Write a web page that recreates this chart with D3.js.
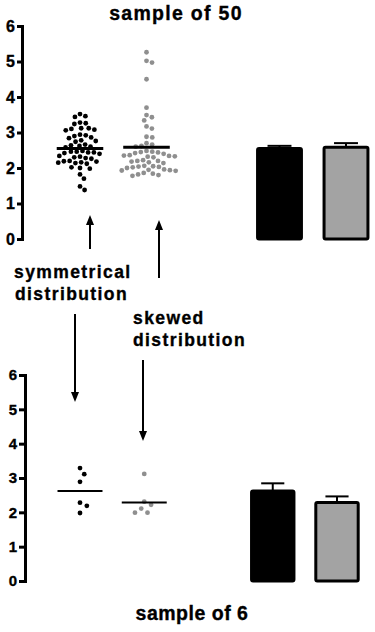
<!DOCTYPE html>
<html lang="en">
  <head>
    <meta charset="utf-8">
    <title>Sample of 50 vs sample of 6</title>
    <script src="https://d3js.org/d3.v7.min.js"></script>
    <style>
      body {
        margin: 0;
        background: #fff;
      }
      svg text {
        font-family: "Liberation Sans", Arial, sans-serif;
        font-weight: bold;
        fill: #000;
        stroke: #000;
        stroke-width: 0.35px;
      }
    </style>
  </head>
  <body>
    <script>
      // values
      const yTicks = [0, 1, 2, 3, 4, 5, 6];
      const columns = ['symDots', 'skewDots', 'gap', 'symBar', 'skewBar'];

      const symmetrical50 = [3.52, 3.46, 3.44, 3.28, 3.26, 3.24, 3.12, 3.10, 3.08, 3.06,
                             3.12, 2.94, 2.90, 2.86, 2.78, 2.74, 2.76, 2.84, 2.92, 2.66,
                             2.62, 2.60, 2.58, 2.64, 2.48, 2.46, 2.44, 2.42, 2.40, 2.44,
                             2.46, 2.32, 2.30, 2.28, 2.26, 2.34, 2.18, 2.16, 2.14, 2.12,
                             2.15, 2.19, 2.20, 2.02, 1.98, 2.00, 1.82, 1.70, 1.48, 1.38];
      const skewed50 = [5.26, 5.02, 4.97, 4.50, 3.70, 3.49, 3.43, 3.34, 3.17, 3.11,
                        2.88, 2.86, 2.70, 2.66, 2.62, 2.60, 2.48, 2.46, 2.45, 2.44,
                        2.42, 2.40, 2.36, 2.34, 2.33, 2.32, 2.30, 2.35, 2.22, 2.20,
                        2.18, 2.16, 2.14, 2.20, 2.06, 2.04, 2.02, 2.00, 2.03, 2.05,
                        1.96, 1.94, 1.92, 1.93, 1.95, 1.86, 1.84, 1.82, 1.80, 1.78];
      const symmetrical6 = [3.29, 3.11, 2.89, 2.28, 2.19, 1.98];
      const skewed6 = [3.12, 2.31, 2.22, 2.11, 1.99, 1.99];

      const w = 375;
      const h = 632;

      const svg = d3.select('body')
                    .append('svg')
                    .attr('width', w)
                    .attr('height', h);

      const sem = v => d3.deviation(v) / Math.sqrt(v.length);

      // simple beeswarm: nearest free slot to the centre line
      function swarm(values, yScale, d) {
        const placed = [];
        values.slice().sort((a, b) => b - a).forEach(v => {
          const y = yScale(v);
          const cands = [0];
          placed.forEach(p => {
            const dy = y - p.y;
            if (Math.abs(dy) < d) {
              const dx = Math.sqrt(d * d - dy * dy);
              cands.push(p.dx + dx, p.dx - dx);
            }
          });
          cands.sort((a, b) => Math.abs(a) - Math.abs(b));
          const ok = cands.find(c => placed.every(p => Math.hypot(p.dx - c, p.y - y) >= d - 0.01));
          placed.push({v: v, y: y, dx: ok});
        });
        return placed;
      }

      function drawPanel(p) {
        const yScale = d3.scaleLinear().domain([0, 6]).range([p.bottom, p.top]);
        const xScale = d3.scalePoint().domain(columns).range([p.left, p.right]);
        const step = xScale.step();
        const g = svg.append('g');

        const yAxis = d3.axisLeft(yScale)
                        .tickValues(yTicks)
                        .tickFormat(d3.format('d'))
                        .tickSize(p.tickLen)
                        .tickSizeOuter(0)
                        .tickPadding(2);

        const ax = g.append('g')
                    .attr('transform', `translate(${p.axisX}, 0)`)
                    .call(yAxis);
        ax.attr('font-size', p.labelSize);
        ax.select('.domain')
          .attr('stroke', '#000')
          .attr('stroke-width', 3)
          .attr('stroke-linecap', 'square');
        ax.selectAll('.tick line')
          .attr('stroke', '#000')
          .attr('stroke-width', 3);
        ax.selectAll('.tick text')
          .style('font-size', p.labelSize + 'px')
          .attr('fill', '#000');

        const groups = [
          {values: p.sym, dots: 'symDots', bar: 'symBar', dot: '#000', fill: '#000'},
          {values: p.skew, dots: 'skewDots', bar: 'skewBar', dot: '#8f8f8f', fill: '#a3a3a3'}
        ];

        groups.forEach(gr => {
          const cx = xScale(gr.dots);
          const m = d3.mean(gr.values);
          const e = sem(gr.values);

          g.selectAll(null)
           .data(swarm(gr.values, yScale, p.spacing))
           .enter()
           .append('circle')
            .attr('cx', d => cx + d.dx)
            .attr('cy', d => d.y)
            .attr('r', p.r)
            .attr('fill', gr.dot);

          g.append('line')
           .attr('x1', cx - 0.35 * step)
           .attr('x2', cx + 0.35 * step)
           .attr('y1', yScale(m))
           .attr('y2', yScale(m))
           .attr('stroke', '#000')
           .attr('stroke-width', p.meanWidth);

          const bx = xScale(gr.bar);
          g.append('line')
           .attr('x1', bx).attr('x2', bx)
           .attr('y1', yScale(m)).attr('y2', yScale(m + e))
           .attr('stroke', '#000')
           .attr('stroke-width', 2);
          g.append('line')
           .attr('x1', bx - 0.18 * step).attr('x2', bx + 0.18 * step)
           .attr('y1', yScale(m + e)).attr('y2', yScale(m + e))
           .attr('stroke', '#000')
           .attr('stroke-width', 2);

          g.append('rect')
           .attr('x', bx - 0.33 * step)
           .attr('width', 0.66 * step)
           .attr('y', yScale(m))
           .attr('height', yScale(0) - yScale(m))
           .attr('rx', 1.5)
           .attr('fill', gr.fill)
           .attr('stroke', '#000')
           .attr('stroke-width', 3);
        });
      }

      drawPanel({top: 26, bottom: 239, left: 80, right: 346, axisX: 22, tickLen: 5,
                 labelSize: 16, r: 2.4, spacing: 5.8, meanWidth: 3,
                 sym: symmetrical50, skew: skewed50});
      drawPanel({top: 375, bottom: 581, left: 80, right: 337, axisX: 25, tickLen: 6,
                 labelSize: 15, r: 2.4, spacing: 7.5, meanWidth: 2,
                 sym: symmetrical6, skew: skewed6});

      // titles
      svg.append('text')
         .attr('x', 176).attr('y', 20)
         .attr('text-anchor', 'middle')
         .attr('font-size', 19.5)
         .attr('letter-spacing', 1.3)
         .text('sample of 50');
      svg.append('text')
         .attr('x', 192).attr('y', 620)
         .attr('text-anchor', 'middle')
         .attr('font-size', 19.5)
         .attr('letter-spacing', 0.5)
         .text('sample of 6');

      // annotations
      const notes = [
        {x: 14, y: 278, t: 'symmetrical'},
        {x: 15, y: 300, t: 'distribution'},
        {x: 133, y: 324, t: 'skewed'},
        {x: 133, y: 346, t: 'distribution'}
      ];
      svg.selectAll('.note')
         .data(notes)
         .enter()
         .append('text')
          .attr('class', 'note')
          .attr('x', d => d.x)
          .attr('y', d => d.y)
          .attr('font-size', 17.5)
          .attr('letter-spacing', 1.4)
          .text(d => d.t);

      const arrows = [
        {x: 90, from: 249, to: 215},
        {x: 159, from: 278, to: 220},
        {x: 75, from: 314, to: 402},
        {x: 143, from: 360, to: 441}
      ];
      arrows.forEach(a => {
        const dir = a.to < a.from ? -1 : 1;
        svg.append('line')
           .attr('x1', a.x).attr('x2', a.x)
           .attr('y1', a.from).attr('y2', a.to - dir * 8)
           .attr('stroke', '#000')
           .attr('stroke-width', 2);
        svg.append('path')
           .attr('d', `M${a.x - 4},${a.to - dir * 10} L${a.x + 4},${a.to - dir * 10} L${a.x},${a.to} Z`)
           .attr('fill', '#000');
      });
    </script>
  </body>
</html>
